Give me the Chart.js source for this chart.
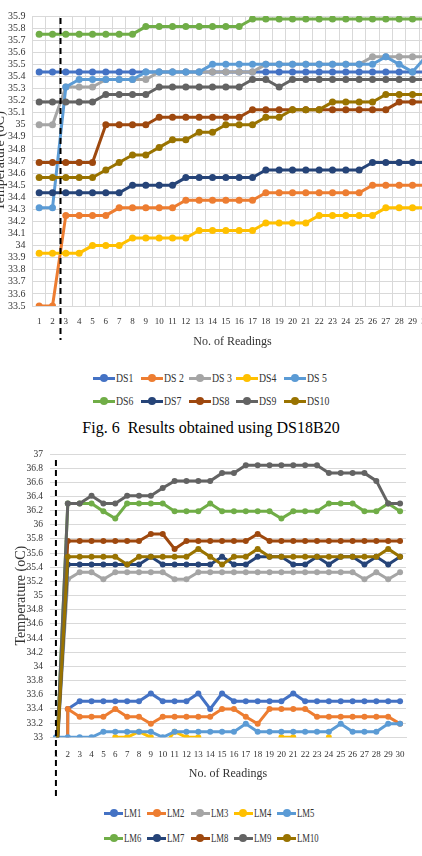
<!DOCTYPE html>
<html><head><meta charset="utf-8">
<script src="https://cdn.jsdelivr.net/npm/chart.js@4/dist/chart.umd.min.js"></script>
<style>
html,body{margin:0;padding:0;background:#fff;width:422px;height:856px;overflow:hidden;position:relative;font-family:"Liberation Serif","Times New Roman",serif;}
#c1wrap{position:absolute;left:-8px;top:0;width:450px;height:360px;}
#c2wrap{position:absolute;left:0;top:440px;width:422px;height:360px;}
.lgd{position:absolute;left:0;top:0;width:422px;height:0;}
.litem{position:absolute;height:16px;white-space:nowrap;}
.mk{position:absolute;top:6.5px;left:0;height:3px;}
.dot{position:absolute;top:-2.5px;width:8px;height:8px;border-radius:50%;}
.lt{position:absolute;top:0;line-height:16px;font-size:11.5px;color:#333;transform-origin:left center;display:inline-block;}
#cap{position:absolute;left:0;width:422px;top:419.6px;text-align:center;font-size:16px;line-height:16px;color:#000;white-space:pre;}
</style></head><body>
<div id="c1wrap"><canvas id="c1" width="450" height="360" style="width:450px;height:360px"></canvas></div>
<div id="legend1" class="lgd"></div>
<div id="cap">Fig. 6  Results obtained using DS18B20</div>
<div id="c2wrap"><canvas id="c2" width="422" height="360" style="width:422px;height:360px"></canvas></div>
<div id="legend2" class="lgd"></div>
<script>
// ---------- data ----------
const readings = ['1','2','3','4','5','6','7','8','9','10','11','12','13','14','15','16','17','18','19','20','21','22','23','24','25','26','27','28','29','30'];

const dsNames = ['DS1','DS 2','DS 3','DS4','DS 5','DS6','DS7','DS8','DS9','DS10'];
const DS1  = [35.4375,35.4375,35.4375,35.4375,35.4375,35.4375,35.4375,35.4375,35.4375,35.4375,35.4375,35.4375,35.4375,35.4375,35.4375,35.4375,35.4375,35.4375,35.4375,35.4375,35.4375,35.4375,35.4375,35.4375,35.4375,35.4375,35.4375,35.4375,35.4375,35.4375];
const DS2  = [33.5,33.5,34.25,34.25,34.25,34.25,34.3125,34.3125,34.3125,34.3125,34.3125,34.375,34.375,34.375,34.375,34.375,34.375,34.4375,34.4375,34.4375,34.4375,34.4375,34.4375,34.4375,34.4375,34.5,34.5,34.5,34.5,34.5];
const DS3  = [35.0,35.0,35.3125,35.3125,35.3125,35.375,35.375,35.375,35.375,35.4375,35.4375,35.4375,35.4375,35.4375,35.4375,35.4375,35.4375,35.5,35.5,35.5,35.5,35.5,35.5,35.5,35.5,35.5625,35.5625,35.5625,35.5625,35.5625];
const DS4  = [33.9375,33.9375,33.9375,33.9375,34.0,34.0,34.0,34.0625,34.0625,34.0625,34.0625,34.0625,34.125,34.125,34.125,34.125,34.125,34.1875,34.1875,34.1875,34.1875,34.25,34.25,34.25,34.25,34.25,34.3125,34.3125,34.3125,34.3125];
const DS5  = [34.3125,34.3125,35.3125,35.375,35.375,35.375,35.375,35.375,35.4375,35.4375,35.4375,35.4375,35.4375,35.5,35.5,35.5,35.5,35.5,35.5,35.5,35.5,35.5,35.5,35.5,35.5,35.5,35.5625,35.5,35.4375,35.5625];
const DS6  = [35.75,35.75,35.75,35.75,35.75,35.75,35.75,35.75,35.8125,35.8125,35.8125,35.8125,35.8125,35.8125,35.8125,35.8125,35.875,35.875,35.875,35.875,35.875,35.875,35.875,35.875,35.875,35.875,35.875,35.875,35.875,35.875];
const DS7  = [34.4375,34.4375,34.4375,34.4375,34.4375,34.4375,34.4375,34.5,34.5,34.5,34.5,34.5625,34.5625,34.5625,34.5625,34.5625,34.5625,34.625,34.625,34.625,34.625,34.625,34.625,34.625,34.625,34.6875,34.6875,34.6875,34.6875,34.6875];
const DS8  = [34.6875,34.6875,34.6875,34.6875,34.6875,35.0,35.0,35.0,35.0,35.0625,35.0625,35.0625,35.0625,35.0625,35.0625,35.0625,35.125,35.125,35.125,35.125,35.125,35.125,35.125,35.125,35.125,35.125,35.125,35.1875,35.1875,35.1875];
const DS9  = [35.1875,35.1875,35.1875,35.1875,35.1875,35.25,35.25,35.25,35.25,35.3125,35.3125,35.3125,35.3125,35.3125,35.3125,35.3125,35.375,35.375,35.3125,35.375,35.375,35.375,35.375,35.375,35.375,35.375,35.375,35.375,35.375,35.375];
const DS10 = [34.5625,34.5625,34.5625,34.5625,34.5625,34.625,34.6875,34.75,34.75,34.8125,34.875,34.875,34.9375,34.9375,35.0,35.0,35.0,35.0625,35.0625,35.125,35.125,35.125,35.1875,35.1875,35.1875,35.1875,35.25,35.25,35.25,35.25];

const lmNames = ['LM1','LM2','LM3','LM4','LM5','LM6','LM7','LM8','LM9','LM10'];
const LM1  = [0,33.40,33.51,33.51,33.51,33.51,33.51,33.51,33.62,33.51,33.51,33.51,33.62,33.40,33.62,33.51,33.51,33.51,33.51,33.51,33.62,33.51,33.51,33.51,33.51,33.51,33.51,33.51,33.51,33.51];
const LM2  = [0,33.40,33.29,33.29,33.29,33.40,33.29,33.29,33.19,33.29,33.29,33.29,33.29,33.29,33.40,33.40,33.29,33.19,33.40,33.40,33.40,33.40,33.29,33.29,33.29,33.29,33.29,33.29,33.29,33.19];
const LM3  = [32.55,35.23,35.33,35.33,35.23,35.33,35.33,35.33,35.33,35.33,35.23,35.23,35.33,35.33,35.33,35.33,35.33,35.33,35.33,35.33,35.33,35.33,35.33,35.33,35.33,35.33,35.23,35.33,35.23,35.33];
const LM4  = [32.87,32.87,32.87,32.87,32.87,33.0,33.0,33.08,33.0,32.87,33.08,33.0,33.0,32.87,32.87,32.87,32.87,32.87,32.87,33.0,33.0,32.87,32.87,33.0,32.87,32.87,32.87,32.87,32.87,32.87];
const LM5  = [33.0,33.0,33.0,33.0,33.08,33.08,33.08,33.08,33.08,33.0,33.08,33.08,33.08,33.08,33.08,33.08,33.19,33.08,33.08,33.08,33.08,33.08,33.08,33.08,33.19,33.08,33.08,33.08,33.19,33.19];
const LM6  = [32.55,36.30,36.30,36.30,36.19,36.09,36.30,36.30,36.30,36.30,36.19,36.19,36.19,36.30,36.19,36.19,36.19,36.19,36.19,36.09,36.19,36.19,36.19,36.30,36.30,36.30,36.19,36.19,36.30,36.19];
const LM7  = [32.55,35.44,35.44,35.44,35.44,35.44,35.44,35.44,35.55,35.44,35.44,35.44,35.44,35.44,35.55,35.44,35.44,35.55,35.55,35.55,35.44,35.44,35.55,35.44,35.55,35.55,35.44,35.55,35.44,35.55];
const LM8  = [32.55,35.77,35.77,35.77,35.77,35.77,35.77,35.77,35.87,35.87,35.66,35.77,35.77,35.77,35.77,35.77,35.77,35.87,35.77,35.77,35.77,35.77,35.77,35.77,35.77,35.77,35.77,35.77,35.77,35.77];
const LM9  = [32.55,36.30,36.30,36.41,36.30,36.30,36.41,36.41,36.41,36.52,36.62,36.62,36.62,36.62,36.73,36.73,36.84,36.84,36.84,36.84,36.84,36.84,36.84,36.73,36.73,36.73,36.73,36.62,36.30,36.30];
const LM10 = [32.55,35.55,35.55,35.55,35.55,35.55,35.44,35.55,35.55,35.55,35.55,35.55,35.66,35.55,35.44,35.55,35.55,35.66,35.55,35.55,35.55,35.55,35.55,35.55,35.55,35.55,35.55,35.55,35.66,35.55];

const topYTicks = [33.5,33.6,33.7,33.8,33.9,34,34.1,34.2,34.3,34.4,34.5,34.6,34.7,34.8,34.9,35,35.1,35.2,35.3,35.4,35.5,35.6,35.7,35.8,35.9];
const bottomYTicks = [33,33.2,33.4,33.6,33.8,34,34.2,34.4,34.6,34.8,35,35.2,35.4,35.6,35.8,36,36.2,36.4,36.6,36.8,37];

// ---------- styles ----------
const palette = ['#4472C4','#ED7D31','#A5A5A5','#FFC000','#5B9BD5','#70AD47','#264478','#9E480E','#636363','#997300'];
const FONT = "'Liberation Serif','Times New Roman',serif";
const TXT = '#333333';
const GRID = '#d9d9d9';

const dashMark = {
  id: 'dashMark',
  afterDatasetsDraw(chart, args, opts) {
    const {ctx, chartArea} = chart;
    const px = chart.scales.x.getPixelForValue(opts.at);
    ctx.save();
    ctx.beginPath();
    ctx.setLineDash([6, 4]);
    ctx.lineWidth = 2;
    ctx.strokeStyle = '#000';
    ctx.moveTo(px, chartArea.top + opts.from);
    ctx.lineTo(px, chartArea.bottom + opts.to);
    ctx.stroke();
    ctx.restore();
  }
};

function makeSets(names, series, radius) {
  return names.map((n, i) => ({
    label: n,
    data: series[i],
    borderColor: palette[i],
    backgroundColor: palette[i],
    pointBackgroundColor: palette[i],
    pointBorderColor: palette[i],
    borderWidth: 3,
    pointRadius: radius,
    pointBorderWidth: 0,
    tension: 0,
    order: -i
  }));
}

const fmt = v => String(+(+v).toFixed(1));

function buildLegend(el, names, cfg) {
  names.forEach((n, i) => {
    const row = Math.floor(i / 5), col = i % 5;
    const item = document.createElement('div');
    item.className = 'litem';
    item.style.left = (cfg.x0 + col * cfg.colW) + 'px';
    item.style.top = (cfg.rows[row] - 8) + 'px';
    const mk = document.createElement('div');
    mk.className = 'mk';
    mk.style.width = cfg.mkW + 'px';
    mk.style.background = palette[i];
    const dot = document.createElement('div');
    dot.className = 'dot';
    dot.style.left = (cfg.mkW / 2 - 4) + 'px';
    dot.style.background = palette[i];
    mk.appendChild(dot);
    const t = document.createElement('span');
    t.className = 'lt';
    t.style.left = (cfg.mkW + 1) + 'px';
    t.style.transform = 'scaleX(' + cfg.sx + ')';
    t.textContent = n;
    item.appendChild(mk);
    item.appendChild(t);
    el.appendChild(item);
  });
}

// ---------- chart 1 (DS18B20) ----------
new Chart(document.getElementById('c1'), {
  type: 'line',
  data: { labels: readings, datasets: makeSets(dsNames, [DS1,DS2,DS3,DS4,DS5,DS6,DS7,DS8,DS9,DS10], 3.5) },
  options: {
    responsive: false, animation: false, devicePixelRatio: 1, events: [],
    layout: { padding: { top: 16, right: 9.5, bottom: 0, left: 0 } },
    plugins: { legend: { display: false }, tooltip: { enabled: false }, dashMark: { at: 1.6, from: 2, to: 34 } },
    scales: {
      x: {
        offset: true,
        grid: { offset: true, color: GRID, drawTicks: false },
        border: { color: GRID },
        ticks: { autoSkip: false, maxRotation: 0, minRotation: 0, padding: 10, color: TXT, font: { family: FONT, size: 9 } },
        title: { display: true, text: 'No. of Readings', color: TXT, font: { family: FONT, size: 12 }, padding: { top: 0, bottom: 11 } },
        afterFit: s => { s.height = 54; }
      },
      y: {
        min: 33.5, max: 35.9,
        afterBuildTicks: s => { s.ticks = topYTicks.map(v => ({ value: v })); },
        grid: { color: GRID, drawTicks: false },
        border: { color: GRID },
        ticks: { autoSkip: false, padding: 7, color: TXT, font: { family: FONT, size: 10 }, callback: fmt },
        title: { display: true, text: 'Temperature (oC)', color: TXT, font: { family: FONT, size: 14 }, padding: { top: 0, bottom: 0 } },
        afterFit: s => { s.width = 40.5; }
      }
    }
  },
  plugins: [dashMark]
});
buildLegend(document.getElementById('legend1'), dsNames, { x0: 93, colW: 47.8, rows: [378, 401], mkW: 22, sx: 0.85 });

// ---------- chart 2 (LM35) ----------
new Chart(document.getElementById('c2'), {
  type: 'line',
  data: { labels: readings, datasets: makeSets(lmNames, [LM1,LM2,LM3,LM4,LM5,LM6,LM7,LM8,LM9,LM10], 3) },
  options: {
    responsive: false, animation: false, devicePixelRatio: 1, events: [],
    layout: { padding: { top: 14, right: 16, bottom: 0, left: 0 } },
    plugins: { legend: { display: false }, tooltip: { enabled: false }, dashMark: { at: 0, from: 6, to: 58.7 } },
    scales: {
      x: {
        offset: true,
        grid: { display: false, drawTicks: false },
        border: { display: true, color: GRID },
        ticks: { autoSkip: false, maxRotation: 0, minRotation: 0, padding: 12, color: TXT, font: { family: FONT, size: 9 } },
        title: { display: true, text: 'No. of Readings', color: TXT, font: { family: FONT, size: 12 }, padding: { top: 0, bottom: 18.8 } },
        afterFit: s => { s.height = 62.7; }
      },
      y: {
        min: 33, max: 37,
        afterBuildTicks: s => { s.ticks = bottomYTicks.map(v => ({ value: v })); },
        grid: { color: GRID, drawTicks: false },
        border: { display: false },
        ticks: { autoSkip: false, padding: 7, color: TXT, font: { family: FONT, size: 9.5 }, callback: fmt },
        title: { display: true, text: 'Temperature (oC)', color: TXT, font: { family: FONT, size: 14 }, padding: { top: 12.6, bottom: 0 } },
        afterFit: s => { s.width = 50; }
      }
    }
  },
  plugins: [dashMark]
});
buildLegend(document.getElementById('legend2'), lmNames, { x0: 104, colW: 43.3, rows: [813, 838], mkW: 19, sx: 0.75 });
</script>
</body></html>
